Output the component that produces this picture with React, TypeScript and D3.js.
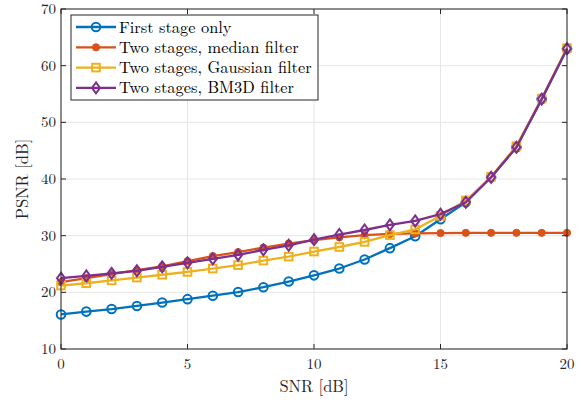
import React from "react";
import * as d3 from "d3";

const snr = [0,1,2,3,4,5,6,7,8,9,10,11,12,13,14,15,16,17,18,19,20];
const firstStage = [16.1,16.6,17.05,17.6,18.2,18.8,19.4,20.05,20.9,21.9,23.0,24.2,25.8,27.8,29.9,32.9,35.9,40.3,45.6,54.1,63.0];
const median = [21.8,22.5,23.2,23.9,24.6,25.5,26.4,27.1,27.9,28.6,29.2,29.7,30.1,30.3,30.4,30.45,30.5,30.5,30.5,30.5,30.5];
const gaussian = [21.2,21.6,22.1,22.6,23.1,23.6,24.2,24.8,25.6,26.3,27.2,28.0,28.9,30.1,31.1,33.5,36.2,40.4,45.8,54.2,63.1];
const bm3d = [22.5,22.9,23.35,23.8,24.5,25.2,25.9,26.6,27.5,28.3,29.3,30.2,31.0,31.9,32.6,33.8,35.9,40.3,45.6,54.1,63.0];
const xTicks = [0,5,10,15,20];
const yTicks = [10,20,30,40,50,60,70];
const seriesNames = ["First stage only","Two stages, median filter","Two stages, Gaussian filter","Two stages, BM3D filter"];
const colors = ["#0072BD","#D95319","#EDB120","#7E2F8E"];
const markers = ["circle","dot","square","diamond"];

const W = 585, H = 405;
const L = 61, R = 567, T = 9, B = 349;
const font = "'Latin Modern Roman','CMU Serif','Liberation Serif','Times New Roman',serif";

function Marker({ type, x, y, color }: { type: string; x: number; y: number; color: string }) {
  if (type === "circle") return <circle cx={x} cy={y} r={4.3} fill="none" stroke={color} strokeWidth={2} />;
  if (type === "dot") return <circle cx={x} cy={y} r={3.6} fill={color} stroke={color} strokeWidth={1} />;
  if (type === "square") return <rect x={x - 3.8} y={y - 3.8} width={7.6} height={7.6} fill="none" stroke={color} strokeWidth={2} />;
  return <path d={`M${x},${y - 5.5}L${x + 4},${y}L${x},${y + 5.5}L${x - 4},${y}Z`} fill="none" stroke={color} strokeWidth={2} />;
}

export default function App() {
  const x = d3.scaleLinear().domain([0, 20]).range([L, R]);
  const y = d3.scaleLinear().domain([10, 70]).range([B, T]);
  const data = [firstStage, median, gaussian, bm3d];
  const line = d3.line<number>().x((_, i) => x(snr[i])).y((d) => y(d));
  return (
    <svg width={W} height={H} style={{ position: "absolute", left: 0, top: 0, background: "#fff" }} fontFamily={font}>
      <rect x={L} y={T} width={R - L} height={B - T} fill="#fff" />
      {xTicks.map((t) => (
        <line key={"gx" + t} x1={x(t)} x2={x(t)} y1={T} y2={B} stroke="#e6e6e6" strokeWidth={1} />
      ))}
      {yTicks.map((t) => (
        <line key={"gy" + t} x1={L} x2={R} y1={y(t)} y2={y(t)} stroke="#e6e6e6" strokeWidth={1} />
      ))}
      {data.map((d, k) => (
        <g key={k}>
          <path d={line(d) || ""} fill="none" stroke={colors[k]} strokeWidth={2.3} strokeLinejoin="round" />
          {d.map((v, i) => (
            <Marker key={i} type={markers[k]} x={x(snr[i])} y={y(v)} color={colors[k]} />
          ))}
        </g>
      ))}
      <rect x={L} y={T} width={R - L} height={B - T} fill="none" stroke="#262626" strokeWidth={1} />
      {xTicks.map((t) => (
        <g key={"tx" + t}>
          <line x1={x(t)} x2={x(t)} y1={B} y2={B - 5} stroke="#262626" />
          <line x1={x(t)} x2={x(t)} y1={T} y2={T + 5} stroke="#262626" />
          <text x={x(t)} y={B + 20} textAnchor="middle" fontSize={15} fill="#262626">{t}</text>
        </g>
      ))}
      {yTicks.map((t) => (
        <g key={"ty" + t}>
          <line x1={L} x2={L + 5} y1={y(t)} y2={y(t)} stroke="#262626" />
          <line x1={R} x2={R - 5} y1={y(t)} y2={y(t)} stroke="#262626" />
          <text x={L - 5} y={Math.max(y(t) + 5, 13)} textAnchor="end" fontSize={15} fill="#262626">{t}</text>
        </g>
      ))}
      <text x={(L + R) / 2} y={392} textAnchor="middle" fontSize={16.5} fill="#262626">SNR [dB]</text>
      <text transform={`translate(28,${(T + B) / 2}) rotate(-90)`} textAnchor="middle" fontSize={16.5} fill="#262626">PSNR [dB]</text>
      <g>
        <rect x={71} y={15} width={247} height={85} fill="#fff" stroke="#262626" strokeWidth={1} />
        {seriesNames.map((n, k) => {
          const yy = 27 + k * 20.3;
          return (
            <g key={n}>
              <line x1={76} x2={116} y1={yy} y2={yy} stroke={colors[k]} strokeWidth={2.3} />
              <Marker type={markers[k]} x={96} y={yy} color={colors[k]} />
              <text x={119} y={yy + 5.5} fontSize={16.4} fill="#000">{n}</text>
            </g>
          );
        })}
      </g>
    </svg>
  );
}
